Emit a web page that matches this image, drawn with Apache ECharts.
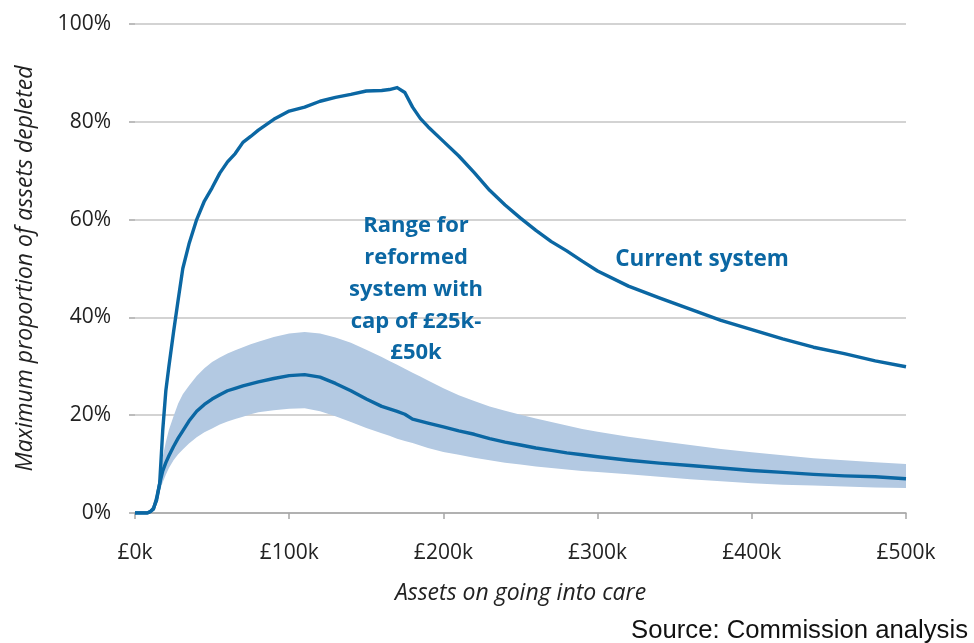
<!DOCTYPE html>
<html>
<head>
<meta charset="utf-8">
<script src="https://cdn.jsdelivr.net/npm/echarts@6/dist/echarts.min.js"></script>
<style>
html,body{margin:0;padding:0;background:#fff;}
#chart{width:974px;height:643px;}
</style>
</head>
<body>
<div id="chart"></div>
<script>
// Assets on going into care (£k)
var assetsK = [0,5,8,10,12,14,16,18,20,22,25,28,31,35,40,45,50,55,60,65,70,75,80,90,100,110,120,130,140,150,160,165,170,175,180,185,190,200,210,220,230,240,250,260,270,280,290,300,320,340,360,380,400,420,440,460,480,500];
// Current system (%)
var currentSystem = [0,0,0,0.3,1,2.6,6,17,25,30,37,43.6,50,55,60,63.8,66.5,69.5,71.8,73.5,75.8,77,78.3,80.5,82.2,83,84.2,85,85.6,86.3,86.4,86.6,87,86,83,80.7,79,76,73,69.6,66,63,60.3,57.8,55.5,53.6,51.5,49.5,46.4,44,41.7,39.4,37.5,35.6,33.9,32.6,31.1,29.9];
// Reformed system, central line (%)
var reformedCentral = [0,0,0,0.3,0.8,3,6,8.6,10.3,11.7,13.6,15.3,16.8,18.8,20.8,22.2,23.3,24.2,25,25.5,26,26.4,26.8,27.5,28.1,28.3,27.8,26.5,25,23.3,21.8,21.3,20.8,20.2,19.2,18.8,18.4,17.6,16.8,16.1,15.2,14.5,13.9,13.3,12.8,12.3,11.9,11.5,10.8,10.2,9.7,9.2,8.7,8.3,7.9,7.6,7.4,7.0];
// Range upper bound (%)
var rangeUpper = [0,0,0,0.3,0.8,3.5,7.5,11.5,14.5,17,19.8,22.4,24.3,26,28,29.6,30.9,31.8,32.6,33.3,33.9,34.5,35,36,36.7,37,36.7,35.9,34.8,33.4,31.9,31.1,30.3,29.5,28.7,27.9,27.1,25.5,24.1,22.9,21.8,20.9,20.1,19.3,18.6,17.9,17.2,16.6,15.6,14.7,13.9,13.1,12.4,11.8,11.2,10.8,10.4,10.0];
// Range lower bound (%)
var rangeLower = [0,0,0,0.3,0.8,2.5,4.5,6.3,7.8,9.2,10.8,12,13,14.2,15.5,16.5,17.3,18.1,18.7,19.2,19.7,20.2,20.6,21,21.3,21.4,20.8,19.8,18.6,17.4,16.3,15.8,15.2,14.7,14.3,13.8,13.3,12.5,11.9,11.3,10.8,10.3,9.9,9.5,9.2,8.9,8.6,8.4,7.9,7.4,6.9,6.5,6.1,5.8,5.6,5.4,5.2,5.1];
var xTicks = [0,100,200,300,400,500];
var yTicks = [0,20,40,60,80,100];

var blue = '#0b67a3';
var bandColor = '#b3c9e2';
var font = 'Open Sans';

function pairs(ys){ return assetsK.map(function(x,i){ return [x, ys[i]]; }); }
var bandData = assetsK.map(function(x,i){ return [x, rangeLower[i], rangeUpper[i]]; });

var chart = echarts.init(document.getElementById('chart'), null, {renderer:'canvas'});
chart.setOption({
  animation:false,
  backgroundColor:'#fff',
  grid:{left:135,right:68,top:24,bottom:130},
  xAxis:{
    type:'value',min:xTicks[0],max:xTicks[xTicks.length-1],interval:100,
    name:'Assets on going into care',nameLocation:'middle',nameGap:69,
    nameTextStyle:{fontFamily:font,fontStyle:'italic',fontSize:23,color:'#222'},
    axisLine:{show:true,onZero:false,lineStyle:{color:'#a6a6a6',width:1.5}},
    axisTick:{show:true,length:6,lineStyle:{color:'#a6a6a6',width:1.5}},
    axisLabel:{margin:30,fontFamily:font,fontSize:21,color:'#222',formatter:function(v){return '£'+v+'k';}},
    splitLine:{show:false}
  },
  yAxis:{
    type:'value',min:yTicks[0],max:yTicks[yTicks.length-1],interval:20,
    name:'Maximum proportion of assets depleted',nameLocation:'middle',nameGap:98,
    nameTextStyle:{fontFamily:font,fontStyle:'italic',fontSize:23,color:'#222'},
    axisLine:{show:false},
    axisTick:{show:true,length:6,lineStyle:{color:'#a6a6a6',width:1.5}},
    axisLabel:{margin:24,fontFamily:font,fontSize:21,color:'#222',formatter:function(v){return v+'%';}},
    splitLine:{show:true,lineStyle:{color:'#c4c4c4',width:1.5}}
  },
  series:[
    {type:'custom',name:'range',data:bandData,silent:true,z:1,
     encode:{x:0,y:[1,2]},
     renderItem:function(params, api){
       if (params.dataIndex !== 0) return null;
       var top = [], bot = [];
       for (var i=0;i<bandData.length;i++){
         top.push(api.coord([bandData[i][0], bandData[i][2]]));
         bot.push(api.coord([bandData[i][0], bandData[i][1]]));
       }
       var pts = top.concat(bot.reverse());
       return {type:'polygon',shape:{points:pts},style:{fill:bandColor,stroke:null}};
     }},
    {type:'line',name:'Reformed',data:pairs(reformedCentral),symbol:'none',smooth:false,
     lineStyle:{color:blue,width:3.4,join:'round'},z:3},
    {type:'line',name:'Current system',data:pairs(currentSystem),symbol:'none',smooth:false,
     lineStyle:{color:blue,width:3.4,join:'round'},z:3}
  ],
  graphic:[
    {type:'text',z:100,x:416,y:210,style:{text:'Range for\nreformed\nsystem with\ncap of £25k-\n£50k',
      font:'bold 22px "Open Sans"',lineHeight:31.8,fill:blue,textAlign:'center',textVerticalAlign:'top'}},
    {type:'text',z:100,x:702,y:260,style:{text:'Current system',font:'bold 22.5px "Open Sans"',fill:blue,textAlign:'center',textVerticalAlign:'middle'}},
    {type:'text',z:100,x:968,y:631,style:{text:'Source: Commission analysis',font:'25.7px "Liberation Sans"',fill:'#111',textAlign:'right',textVerticalAlign:'middle'}}
  ]
});
</script>
</body>
</html>
